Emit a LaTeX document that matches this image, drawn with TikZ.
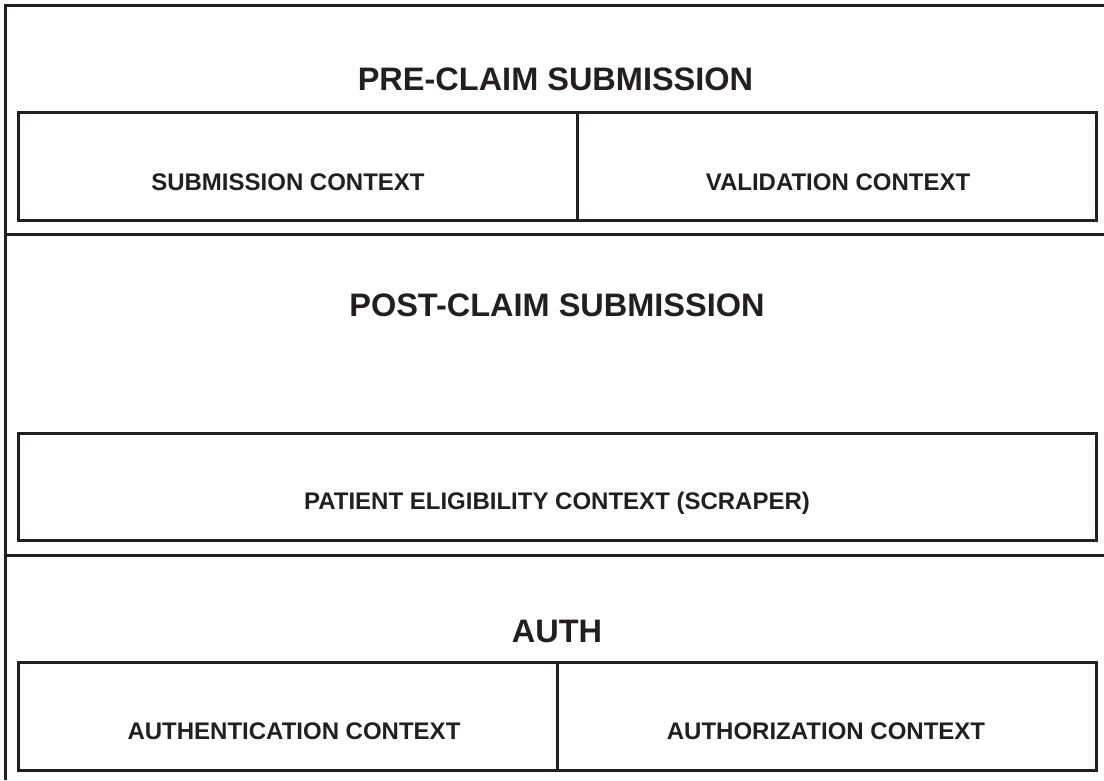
\documentclass[tikz,border=0pt]{standalone}
\usepackage{fontspec}
\setmainfont{Liberation Sans}
\definecolor{ink}{HTML}{231F20}

\begin{document}
\begin{tikzpicture}[x=1pt,y=-1pt,
	frame/.style={line width=3pt, color=ink},
	title/.style={anchor=base, inner sep=0pt, text=ink, font=\bfseries\fontsize{32.5}{32.5}\selectfont},
	ctx/.style={anchor=base, inner sep=0pt, text=ink, font=\bfseries\fontsize{24}{24}\selectfont}]
					\useasboundingbox (0,0) rectangle (1104,780);
					% outer frame and section rules
					\draw [frame] (5.3,780) -- (5.3,5.3) -- (1104,5.3);
					\draw [frame] (5.3,234) -- (1104,234);
					\draw [frame] (5.3,555) -- (1104,555);
					% pre-claim
					\draw [frame] (18.3,112.5) rectangle (1096.5,220.3);
					\draw [frame] (577.3,112.5) -- (577.3,220.3);
					\node [title] (preclaim) at (555.5,90.7) {PRE-CLAIM SUBMISSION};
					\node [ctx] (submission) at (288,190) {SUBMISSION CONTEXT};
					\node [ctx] (validation) at (838,190) {VALIDATION CONTEXT};
					% post-claim
					\draw [frame] (18.3,433) rectangle (1096.5,540);
					\node [title] (postclaim) at (557,316.5) {POST-CLAIM SUBMISSION};
					\node [ctx] (eligibility) at (557,509.5) {PATIENT ELIGIBILITY CONTEXT (SCRAPER)};
					% auth
					\draw [frame] (18.3,662.5) rectangle (1096.5,770);
					\draw [frame] (557.3,662.5) -- (557.3,770);
					\node [title] (auth) at (557,642) {AUTH};
					\node [ctx] (authentication) at (294,739.5) {AUTHENTICATION CONTEXT};
					\node [ctx] (authorization) at (826,739.5) {AUTHORIZATION CONTEXT};
				\end{tikzpicture}
\end{document}
